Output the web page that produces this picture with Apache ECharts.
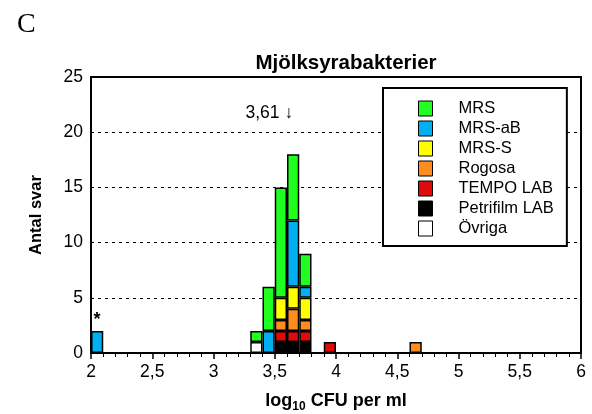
<!DOCTYPE html>
<html>
<head>
<meta charset="utf-8">
<script src="https://cdn.jsdelivr.net/npm/echarts@6/dist/echarts.min.js"></script>
<style>
  html, body { margin: 0; padding: 0; background: #fff; }
  #chart { width: 592px; height: 414px; }
</style>
</head>
<body>
<div id="chart"></div>
<script>
// Histogram bins (log10 CFU per ml), each 0.1 wide, from 2.0 up to 6.0
const binWidth = 0.1;
const xMin = 2;
const xMax = 6;

// Bins that hold at least one answer (lower edge of the bin)
const binStarts = [2.0, 3.3, 3.4, 3.5, 3.6, 3.7, 3.9, 4.6];

// Number of answers per method in each of the bins above
const mrs       = [0, 1, 4, 10, 6, 3, 0, 0];
const mrsAB     = [2, 0, 2, 0, 6, 1, 0, 0];
const mrsS      = [0, 0, 0, 2, 2, 2, 0, 0];
const rogosa    = [0, 0, 0, 1, 2, 1, 0, 1];
const tempoLab  = [0, 0, 0, 1, 1, 1, 1, 0];
const petrifilm = [0, 0, 0, 1, 1, 1, 0, 0];
const ovriga    = [0, 1, 0, 0, 0, 0, 0, 0];

// Median and the bin flagged with an asterisk
const medianValue = 3.61;
const medianText = '3,61 ↓';
const flaggedBin = 2.0;

const xTicks = [2, 2.5, 3, 3.5, 4, 4.5, 5, 5.5, 6];
const yTicks = [0, 5, 10, 15, 20, 25];

const FONT = "'Liberation Sans', Arial, sans-serif";

const nBins = Math.round((xMax - xMin) / binWidth);
const categories = [];
for (let i = 0; i < nBins; i++) categories.push((xMin + i * binWidth).toFixed(1));

function toBins(values) {
  const out = categories.map(() => '-');
  binStarts.forEach((b, k) => {
    const idx = Math.round((b - xMin) / binWidth);
    if (values[k] > 0) out[idx] = values[k];
  });
  return out;
}

// Stacking order, bottom to top
const stackSeries = [
  { name: 'Övriga',        values: ovriga,    color: '#ffffff' },
  { name: 'Petrifilm LAB', values: petrifilm, color: '#000000' },
  { name: 'TEMPO LAB',     values: tempoLab,  color: '#e00a0a' },
  { name: 'Rogosa',        values: rogosa,    color: '#ff8c1e' },
  { name: 'MRS-S',         values: mrsS,      color: '#ffff00' },
  { name: 'MRS-aB',        values: mrsAB,     color: '#00b0f0' },
  { name: 'MRS',           values: mrs,       color: '#20ff20' }
];

const flaggedIdx = Math.round((flaggedBin - xMin) / binWidth);

const series = stackSeries.map(s => {
  const data = toBins(s.values).map((v, i) => {
    if (s.name === 'MRS-aB' && i === flaggedIdx) {
      return {
        value: v,
        label: { show: true, position: 'top', distance: 2, formatter: '*',
                 fontFamily: FONT, fontSize: 18, fontWeight: 'bold', color: '#000' }
      };
    }
    return v;
  });
  return {
    name: s.name,
    type: 'bar',
    stack: 'total',
    xAxisIndex: 0,
    yAxisIndex: 0,
    barWidth: '100%',
    barCategoryGap: '0%',
    itemStyle: { color: s.color, borderColor: '#000', borderWidth: 1.5 },
    emphasis: { disabled: true },
    data
  };
});

// Median marker text, arrow pointing at the median position
series.push({
  type: 'scatter',
  xAxisIndex: 1,
  yAxisIndex: 0,
  symbolSize: 0,
  silent: true,
  itemStyle: { opacity: 1 },
  data: [[medianValue + 0.04, 21.7]],
  label: {
    show: true, position: 'left', distance: 0, formatter: medianText,
    fontFamily: FONT, fontSize: 17.5, color: '#000'
  },
  z: 5
});

const chart = echarts.init(document.getElementById('chart'), null, { renderer: 'canvas' });
chart.setOption({
  animation: false,
  backgroundColor: '#fff',
  textStyle: { fontFamily: FONT },
  title: [
    {
      text: 'Mjölksyrabakterier',
      left: 341, top: 48, textAlign: 'center',
      textStyle: { fontFamily: FONT, fontSize: 20.5, fontWeight: 'bold', color: '#000' }
    },
    {
      text: 'C',
      left: 12, top: 6,
      textStyle: { fontFamily: "'Liberation Serif', 'Times New Roman', serif", fontSize: 28, fontWeight: 'normal', color: '#000' }
    }
  ],
  grid: {
    left: 91, right: 11, top: 77, bottom: 61,
    outerBoundsMode: 'none',
    containLabel: false,
    show: true, borderColor: '#000', borderWidth: 2, backgroundColor: 'transparent'
  },
  legend: {
    orient: 'vertical',
    left: 383, top: 88,
    padding: [12, 13, 9, 35],
    itemGap: 3,
    itemWidth: 14, itemHeight: 15,
    icon: 'rect',
    backgroundColor: '#fff',
    borderColor: '#000', borderWidth: 2,
    selectedMode: false,
    data: ['MRS', 'MRS-aB', 'MRS-S', 'Rogosa', 'TEMPO LAB', 'Petrifilm LAB', 'Övriga'],
    itemStyle: { borderColor: '#000', borderWidth: 1 },
    textStyle: { fontFamily: FONT, fontSize: 16.5, lineHeight: 17, color: '#000', padding: [0, 0, 0, 21] }
  },
  xAxis: [
    {
      type: 'category',
      data: categories,
      show: false,
      boundaryGap: true
    },
    {
      type: 'value',
      position: 'bottom',
      min: xMin, max: xMax, interval: 0.5,
      axisLine: { show: true, lineStyle: { color: '#000', width: 2 } },
      axisTick: { show: true, inside: false, length: 6, lineStyle: { color: '#000', width: 1.5 } },
      minorTick: { show: true, splitNumber: 5, length: 4, lineStyle: { color: '#000', width: 1 } },
      splitLine: { show: false },
      axisLabel: {
        fontFamily: FONT, fontSize: 17.5, color: '#000', margin: 10,
        formatter: v => xTicks.includes(v) ? String(v).replace('.', ',') : ''
      },
      name: '{b|log}{s|10}{b| CFU per ml}',
      nameLocation: 'middle',
      nameGap: 36,
      nameTextStyle: {
        rich: {
          b: { fontFamily: FONT, fontSize: 18, fontWeight: 'bold', color: '#000' },
          s: { fontFamily: FONT, fontSize: 12, fontWeight: 'bold', color: '#000', padding: [12, 0, 0, 0] }
        }
      }
    }
  ],
  yAxis: {
    type: 'value',
    min: 0, max: 25, interval: 5,
    axisLine: { show: true, lineStyle: { color: '#000', width: 2 } },
    axisTick: { show: false },
    axisLabel: {
      fontFamily: FONT, fontSize: 17.5, color: '#000', margin: 8,
      formatter: v => yTicks.includes(v) ? String(v) : ''
    },
    splitLine: { show: true, lineStyle: { color: '#000', width: 1, type: [3, 4] } },
    name: 'Antal svar',
    nameLocation: 'middle',
    nameGap: 46,
    nameTextStyle: { fontFamily: FONT, fontSize: 16.5, fontWeight: 'bold', color: '#000' }
  },
  series
});
</script>
</body>
</html>
